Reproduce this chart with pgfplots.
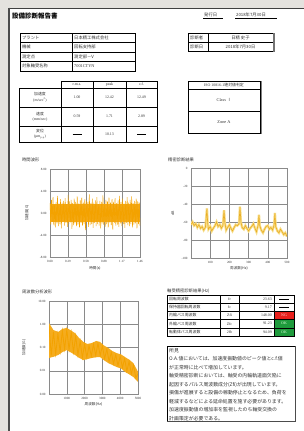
\documentclass[border=0pt]{standalone}
\usepackage{pgfplots}
\pgfplotsset{compat=1.18}
\usepackage{fontspec}
\setmainfont{Liberation Serif}
\newfontfamily\jp{Noto Sans CJK JP}
\newcommand\fs[1]{\fontsize{#1}{#1}\selectfont}
\definecolor{bg}{HTML}{E4E2DE}
\definecolor{org}{HTML}{F3A200}
\definecolor{lorg}{HTML}{F8BE45}
\definecolor{morg}{HTML}{F5AC1E}
\definecolor{yel}{HTML}{E9AE25}
\definecolor{lyel}{HTML}{F8DE8A}
\definecolor{ngred}{HTML}{E8201C}
\definecolor{okgrn}{HTML}{1E9A3C}
\definecolor{gridc}{HTML}{8A8A8A}
\definecolor{txt}{HTML}{333333}
\pgfplotsset{rep/.style={scale only axis, anchor=south west,
  axis line style={gridc,line width=0.4pt}, grid=major,
  grid style={gridc,line width=0.45pt}, tick style={gridc,line width=0.3pt},
  major tick length=1.5pt, tick label style={font=\fs{3.2},text=txt},
  /pgf/number format/assume math mode=true, scaled ticks=false,
  label style={font=\jp\fs{3.6},text=txt}, xtick pos=bottom, ytick pos=left}}
\begin{document}
\begin{tikzpicture}
\begin{scope}[x=1pt,y=-1pt]
\useasboundingbox (0,0) rectangle (304,431);
\fill[bg] (0,0) rectangle (304,431);
\fill[white] (9,8) rectangle (304,431);
\draw[line width=0.6pt, black!75] (9,8) -- (304,8);
\draw[line width=2pt, black!70] (9,7.5) -- (9,431);
% title
\node[anchor=west, inner sep=0, font=\jp\bfseries\fs{6.5}] at (12,16) {設備診断報告書};
\node[anchor=west, inner sep=0, font=\jp\fs{4.3}, text=txt] at (204,15.3) {発行日};
\draw[line width=0.3pt] (203,18.5) -- (223,18.5);
\node[anchor=west, inner sep=0, font=\jp\fs{4.3}, text=txt] at (236,15.3) {2018年7月30日};
\draw[line width=0.3pt] (235,18.5) -- (277,18.5);
% table 1
\draw[line width=0.7pt] (20,33) rectangle (135,71);
\foreach \y in {42.5,52,61.5} \draw[line width=0.5pt] (20,\y) -- (135,\y);
\draw[line width=0.5pt] (72,33) -- (72,71);
\begin{scope}[every node/.style={anchor=west, inner sep=0, font=\jp\fs{4.3}, text=txt}]
\node at (22,37.75) {プラント}; \node at (74,37.75) {日本精工株式会社};
\node at (22,47.25) {機械}; \node at (74,47.25) {回転支持部};
\node at (22,56.75) {測定点}; \node at (74,56.75) {測定部－V};
\node at (22,66.25) {対象軸受名称}; \node at (74,66.25) {\rmfamily 7001CTYN};
\node at (190,37.5) {診断者}; \node at (190,46.5) {診断日};
\end{scope}
% table 2
\draw[line width=0.7pt] (188,33) rectangle (273,51);
\draw[line width=0.5pt] (188,42) -- (273,42);
\draw[line width=0.5pt] (208,33) -- (208,51);
\draw[line width=1.2pt, black!55] (274,33) -- (274,51.5);
\node[inner sep=0, font=\jp\fs{4.3}, text=txt] at (240.5,37.5) {日精 史子};
\node[inner sep=0, font=\jp\fs{4.3}, text=txt] at (240.5,46.5) {2018年7月30日};
% table 3
\draw[line width=0.7pt] (61,81) rectangle (157,88);
\draw[line width=0.7pt] (19,88) rectangle (157,142);
\foreach \y in {107,126} \draw[line width=0.5pt] (19,\y) -- (157,\y);
\foreach \x in {93,126} \draw[line width=0.5pt] (\x,81) -- (\x,142);
\draw[line width=0.5pt] (61,88) -- (61,142);
\begin{scope}[every node/.style={inner sep=0, font=\fs{3.9}, text=txt, align=center}]
\node at (77,84.5) {r.m.s.}; \node at (109.5,84.5) {peak}; \node at (141.5,84.5) {c.f.};
\node at (40,97.5) {{\jp 加速度}\\[1pt](m/sec\textsuperscript{2})};
\node at (40,116.5) {{\jp 速度}\\[1pt](mm/sec)};
\node at (40,134) {{\jp 変位}\\[1pt](μm\textsubscript{p-p})};
\node at (77,97.5) {1.00}; \node at (109.5,97.5) {12.42}; \node at (141.5,97.5) {12.49};
\node at (77,116.5) {0.59}; \node at (109.5,116.5) {1.71}; \node at (141.5,116.5) {2.89};
\node at (109.5,134) {10.13};
\end{scope}
\draw[line width=0.9pt] (72.5,134) -- (81.5,134);
\draw[line width=0.9pt] (137,134) -- (146,134);
% table 4
\draw[line width=0.7pt] (188,81) rectangle (260,133);
\draw[line width=0.6pt] (188,89) -- (260,89);
\draw[line width=0.6pt] (188,111) -- (260,111);
\draw[line width=1.4pt, black!50] (261.3,81) -- (261.3,133.5);
\node[inner sep=0, font=\fs{3.9}, text=txt] at (224,85) {ISO 10816-1{\jp 絶対値判定}};
\node[inner sep=0, font=\fs{4.3}, text=txt] at (224,100) {Class {\jp Ⅰ}};
\node[inner sep=0, font=\fs{4.3}, text=txt] at (224,122) {Zone A};
% chart titles
\begin{scope}[every node/.style={anchor=west, inner sep=0, font=\jp\fs{4.3}, text=txt}]
\node at (22,159.5) {時間波形};
\node at (168,159.5) {精密診断結果};
\node at (22,292) {周波数分析波形};
\node at (167,291.5) {軸受精密診断結果(Hz)};
\end{scope}
% table 5
\fill[ngred] (274,311.4) rectangle (294,319.6);
\fill[okgrn] (274,319.6) rectangle (294,336);
\draw[line width=0.7pt] (167,295) rectangle (294,336);
\foreach \y in {303.2,311.4,319.6,327.8} \draw[line width=0.5pt] (167,\y) -- (294,\y);
\foreach \x in {220,239,274} \draw[line width=0.5pt] (\x,295) -- (\x,336);
\begin{scope}[every node/.style={inner sep=0, font=\fs{3.9}, text=txt}]
\node[anchor=west, font=\jp\fs{3.9}] at (169,299.1) {回転周波数};
\node[anchor=west, font=\jp\fs{3.9}] at (169,307.3) {保持器回転周波数};
\node[anchor=west, font=\jp\fs{3.9}] at (169,315.5) {内輪パス周波数};
\node[anchor=west, font=\jp\fs{3.9}] at (169,323.7) {外輪パス周波数};
\node[anchor=west, font=\jp\fs{3.9}] at (169,331.9) {転動体パス周波数};
\node at (229.5,299.1) {fr}; \node at (229.5,307.3) {fc}; \node at (229.5,315.5) {Zfi};
\node at (229.5,323.7) {Zfc}; \node at (229.5,331.9) {2fb};
\node[anchor=east] at (272,299.1) {23.63}; \node[anchor=east] at (272,307.3) {9.17};
\node[anchor=east] at (272,315.5) {148.00}; \node[anchor=east] at (272,323.7) {91.23};
\node[anchor=east] at (272,331.9) {94.09};
\node[text=white!85!red] at (284,315.5) {NG};
\node[text=white!85!green] at (284,323.7) {OK};
\node[text=white!85!green] at (284,331.9) {OK};
\end{scope}
\draw[line width=0.8pt] (279,299.1) -- (289,299.1);
\draw[line width=0.8pt] (279,307.3) -- (289,307.3);
% comment box
\draw[line width=0.5pt] (167,346) rectangle (295,421);
\draw[line width=1.3pt, black!70] (295.5,346) -- (295.5,421.6) -- (167,421.6);
\begin{scope}[every node/.style={anchor=west, inner sep=0, font=\jp\fs{4.9}, text=txt}]
\node at (169,350.5) {所見};
\node at (169,359) {O.A.値においては、加速度振動値のピーク値とc.f.値};
\node at (169,367.5) {が正常時に比べて増加しています。};
\node at (169,376) {軸受精密診断においては、軸受の内輪軌道面欠陥に};
\node at (169,384.5) {起因するパルス周波数成分(Zfi)が出現しています。};
\node at (169,393) {損傷が進展すると設備の稼動停止となるため、負荷を};
\node at (169,401.5) {軽減するなどによる延命処置を施す必要があります。};
\node at (169,410) {加速度振動値の増加率を監視したのち軸受交換の};
\node at (169,418.5) {計画策定が必要である。};
\end{scope}
\end{scope}

% ---- chart 1: time waveform
\begin{axis}[rep, at={(50pt,-257pt)}, width=90pt, height=88pt,
  xmin=0, xmax=119, ymin=-8, ymax=8,
  xtick={0,23.8,47.6,71.4,95.2,119}, xticklabels={0.00,0.29,0.58,0.88,1.17,1.46},
  ytick={-8,-4,0,4,8}, yticklabels={-8.00,-4.00,0.00,4.00,8.00},
  xlabel={時間(s)}, ylabel={加速度(G)},
  xlabel style={at={(axis description cs:0.5,-0.125)},anchor=center},
  ylabel style={at={(axis description cs:-0.255,0.5)},anchor=center}]
\addplot[draw=none, fill=morg] coordinates {(0,1.6)(119,1.6)(119,-1.6)(0,-1.6)} -- cycle;
\addplot[org, line width=0.5pt] table[header=false, x expr=\coordindex, y index=0, row sep=\\] {
1.8\\-2.1\\2.4\\-1.6\\2.9\\-2.2\\1.5\\-2.6\\2.0\\-1.9\\3.1\\-2.4\\1.7\\-2.0\\2.5\\-2.8\\1.9\\-1.5\\2.2\\-2.3\\
2.7\\-1.8\\1.6\\-2.5\\3.3\\-2.0\\2.1\\-1.7\\2.4\\-2.9\\1.8\\-2.2\\2.6\\-1.9\\2.0\\-2.4\\3.0\\-2.1\\1.7\\-2.6\\
2.3\\-1.8\\2.8\\-2.3\\1.9\\-2.0\\2.5\\-3.1\\2.2\\-1.6\\2.0\\-2.5\\3.4\\-2.2\\1.8\\-2.0\\2.6\\-2.7\\1.9\\-1.8\\
2.3\\-2.4\\2.9\\-2.0\\1.6\\-2.3\\2.2\\-2.8\\2.0\\-1.9\\3.2\\-2.1\\1.7\\-2.5\\2.4\\-2.0\\2.1\\-2.6\\2.8\\-1.7\\
1.9\\-2.2\\2.5\\-3.0\\2.0\\-1.8\\2.7\\-2.3\\1.8\\-2.1\\2.3\\-2.5\\3.1\\-1.9\\2.0\\-2.4\\2.6\\-2.0\\1.7\\-2.7\\
2.2\\-1.8\\2.9\\-2.2\\1.9\\-2.4\\2.4\\-2.0\\3.0\\-2.6\\1.8\\-2.1\\2.2\\-1.9\\2.6\\-2.8\\2.1\\-2.0\\1.9\\-2.3\\
};
\end{axis}

% ---- chart 2: envelope analysis
\begin{axis}[rep, at={(191pt,-258pt)}, width=96pt, height=90pt,
  xmin=0, xmax=500, ymin=-100, ymax=0,
  xtick={0,100,200,300,400,500}, xticklabels={,100,200,300,400,500},
  ytick={-100,-80,-60,-40,-20,0},
  xlabel={周波数(Hz)}, ylabel={dB},
  xlabel style={at={(axis description cs:0.5,-0.11)},anchor=center},
  ylabel style={at={(axis description cs:-0.19,0.5)},anchor=center}]
\addplot[lyel, line width=2.4pt] coordinates {
(0,-63)(8,-60)(16,-64)(25,-62)(33,-66)(41,-63)(50,-67)(58,-65)(66,-69)(75,-66)(83,-45)(87,-62)(91,-68)
(100,-65)(108,-70)(116,-67)(125,-64)(133,-60)(141,-65)(150,-63)(158,-67)(166,-64)(172,-47)(176,-60)
(183,-69)(191,-66)(200,-63)(208,-67)(216,-70)(225,-66)(233,-63)(241,-64)(250,-62)(255,-43)(260,-60)
(266,-66)(275,-68)(283,-64)(291,-67)(300,-70)(308,-67)(316,-65)(325,-62)(333,-67)(341,-71)(350,-63)
(354,-52)(358,-64)(366,-69)(375,-72)(383,-68)(391,-65)(400,-64)(408,-68)(416,-66)(425,-69)(433,-63)
(437,-50)(441,-65)(450,-70)(458,-72)(466,-68)(475,-71)(483,-74)(491,-72)(500,-76)};
\addplot[yel, line width=0.6pt] coordinates {
(0,-63)(8,-60)(16,-64)(25,-62)(33,-66)(41,-63)(50,-67)(58,-65)(66,-69)(75,-66)(83,-45)(87,-62)(91,-68)
(100,-65)(108,-70)(116,-67)(125,-64)(133,-60)(141,-65)(150,-63)(158,-67)(166,-64)(172,-47)(176,-60)
(183,-69)(191,-66)(200,-63)(208,-67)(216,-70)(225,-66)(233,-63)(241,-64)(250,-62)(255,-43)(260,-60)
(266,-66)(275,-68)(283,-64)(291,-67)(300,-70)(308,-67)(316,-65)(325,-62)(333,-67)(341,-71)(350,-63)
(354,-52)(358,-64)(366,-69)(375,-72)(383,-68)(391,-65)(400,-64)(408,-68)(416,-66)(425,-69)(433,-63)
(437,-50)(441,-65)(450,-70)(458,-72)(466,-68)(475,-71)(483,-74)(491,-72)(500,-76)};
\end{axis}

% ---- chart 3: frequency spectrum (log10 values)
\begin{axis}[rep, at={(49pt,-394pt)}, width=89pt, height=93pt,
  xmin=0, xmax=5000, ymin=-3, ymax=1,
  xtick={0,1000,2000,3000,4000,5000}, xticklabels={,1000,2000,3000,4000,5000},
  ytick={-3,-2,-1,0,1}, yticklabels={0.00,0.01,0.10,1.00,10.00},
  xlabel={周波数(Hz)}, ylabel={加速度(G)},
  xlabel style={at={(axis description cs:0.5,-0.108)},anchor=center},
  ylabel style={at={(axis description cs:-0.28,0.5)},anchor=center}]
\addplot[draw=none, fill=morg] coordinates {
(0,0.05)(250,-0.25)(524,-0.33)(750,-0.2)(993,-0.16)(1200,-0.25)(1461,-0.38)(1700,-0.6)(1929,-0.76)
(2150,-0.85)(2397,-0.81)(2650,-0.72)(2865,-0.76)(3100,-0.92)(3333,-1.02)(3550,-1.15)(3801,-1.24)
(4050,-1.30)(4270,-1.41)(4500,-1.52)(4738,-1.67)(4900,-1.9)(5000,-2.05)
(5000,-2.48)(4900,-2.4)(4738,-2.27)(4500,-2.15)(4270,-2.05)(4050,-1.9)(3801,-1.84)(3550,-1.75)
(3333,-1.67)(3100,-1.55)(2865,-1.41)(2650,-1.42)(2397,-1.45)(2150,-1.50)(1929,-1.54)(1700,-1.45)
(1461,-1.32)(1200,-1.2)(993,-1.11)(750,-1.2)(524,-1.32)(250,-1.4)(0,-1.45)} -- cycle;
\addplot[org, line width=0.8pt] coordinates {
(0,-0.03)(125,-1.34)(250,-0.33)(375,-1.28)(500,-0.41)(625,-1.18)(750,-0.28)(875,-1.07)(1000,-0.24)
(1125,-1.08)(1250,-0.35)(1375,-1.20)(1500,-0.50)(1625,-1.33)(1750,-0.72)(1875,-1.44)(2000,-0.86)
(2125,-1.43)(2250,-0.92)(2375,-1.37)(2500,-0.86)(2625,-1.34)(2750,-0.82)(2875,-1.34)(3000,-0.93)
(3125,-1.48)(3250,-1.07)(3375,-1.60)(3500,-1.20)(3625,-1.70)(3750,-1.31)(3875,-1.78)(4000,-1.37)
(4125,-1.87)(4250,-1.48)(4375,-2.02)(4500,-1.60)(4625,-2.13)(4750,-1.76)(4875,-2.30)(5000,-2.13)};
\end{axis}
\end{tikzpicture}
\end{document}
